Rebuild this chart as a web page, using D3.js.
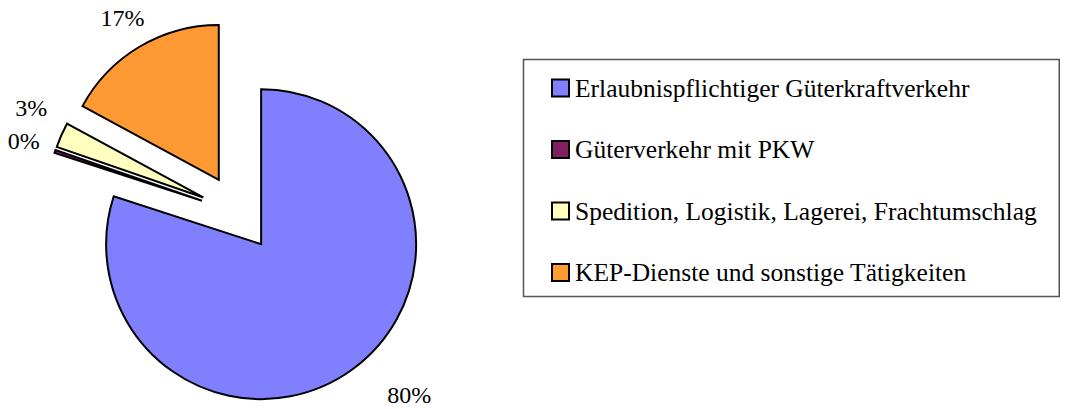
<!DOCTYPE html>
<html>
<head>
<meta charset="utf-8">
<script src="https://cdn.jsdelivr.net/npm/d3@7"></script>
<style>
  body { margin: 0; background: #fff; }
</style>
</head>
<body>
<div id="chart"></div>
<script>
// data
const categories = [
    'Erlaubnispflichtiger Güterkraftverkehr',
    'Güterverkehr mit PKW',
    'Spedition, Logistik, Lagerei, Frachtumschlag',
    'KEP-Dienste und sonstige Tätigkeiten'
];
const shares = [80.0, 0.3, 2.6, 17.1];
const colors = ['#8080FF', '#802060', '#FFFFC0', '#FF9933'];

const width = 1077, height = 409;
const cx = 238.5, cy = 213;
const radius = 155, explode = 38.5;
const serif = '"Liberation Serif", "DejaVu Serif", serif';

const svg = d3.select('#chart').append('svg')
    .attr('width', width)
    .attr('height', height)
    .style('font-family', serif);

const pie = d3.pie().sort(null).value(d => d)
    .startAngle(0).endAngle(2 * Math.PI);
const arcs = pie(shares);

const arc = d3.arc().innerRadius(0).outerRadius(radius);

const g = svg.append('g').attr('transform', `translate(${cx},${cy})`);

// every slice pulled out along its mid angle
function offset(d, dist) {
    const a = (d.startAngle + d.endAngle) / 2;
    return [Math.sin(a) * dist, -Math.cos(a) * dist];
}

g.selectAll('path')
    .data(arcs)
    .enter().append('path')
    .attr('transform', d => `translate(${offset(d, explode)})`)
    .attr('d', arc)
    .attr('fill', (d, i) => colors[i])
    .attr('stroke', '#000')
    .attr('stroke-width', 2)
    .attr('stroke-linejoin', 'miter');

// percentage labels
const labelSize = 24;
const labelDist = radius + 33;
const hw = 22, hh = 8;
let labels = arcs.map((d, i) => {
    const a = (d.startAngle + d.endAngle) / 2;
    const sx = Math.sin(a), sy = -Math.cos(a);
    const [ox, oy] = offset(d, explode);
    let x = ox + sx * labelDist, y = oy + sy * labelDist;
    // keep inside the chart area: fix y, slide so the nearest corner stays on the circle
    const maxY = height - cy - 14;
    if (y > maxY) {
        y = maxY;
        const dy = y - oy - hh;
        x = ox + Math.sign(sx) * (Math.sqrt(Math.max(0, labelDist * labelDist - dy * dy)) + hw + 4);
    }
    return { x: x, y: y, text: Math.round(d.data) + '%' };
});
// push overlapping labels apart, the upper one moves up
for (let i = 0; i < labels.length; i++) {
    for (let j = 0; j < labels.length; j++) {
        if (i === j) continue;
        const a = labels[i], b = labels[j];
        if (Math.abs(a.x - b.x) < 50 && a.y >= b.y && a.y - b.y < 33) {
            b.y = a.y - 33;
        }
    }
}

g.selectAll('text.pct')
    .data(labels)
    .enter().append('text')
    .attr('class', 'pct')
    .attr('x', d => d.x)
    .attr('y', d => d.y)
    .attr('text-anchor', 'middle')
    .attr('dominant-baseline', 'central')
    .attr('font-size', labelSize)
    .text(d => d.text);

// legend
const legendX = 523, legendY = 59, legendH = 237;
const itemGap = 61.5, legendSize = 25.5;
const legend = svg.append('g');
const box = legend.append('rect')
    .attr('x', legendX + 0.5)
    .attr('y', legendY + 0.5)
    .attr('height', legendH)
    .attr('fill', '#fff')
    .attr('stroke', '#555')
    .attr('stroke-width', 1.5);

const items = legend.selectAll('g.item')
    .data(categories)
    .enter().append('g')
    .attr('class', 'item')
    .attr('transform', (d, i) => `translate(${legendX + 29},${legendY + 29 + i * itemGap})`);

items.append('rect')
    .attr('x', 0)
    .attr('y', -8.5)
    .attr('width', 17)
    .attr('height', 17)
    .attr('fill', (d, i) => colors[i])
    .attr('stroke', '#000')
    .attr('stroke-width', 2);

items.append('text')
    .attr('x', 23)
    .attr('y', 0)
    .attr('dominant-baseline', 'central')
    .attr('font-size', legendSize)
    .text(d => d);

let maxW = 0;
items.selectAll('text').each(function() { maxW = Math.max(maxW, this.getComputedTextLength()); });
box.attr('width', 29 + 23 + maxW + 22);
</script>
</body>
</html>
